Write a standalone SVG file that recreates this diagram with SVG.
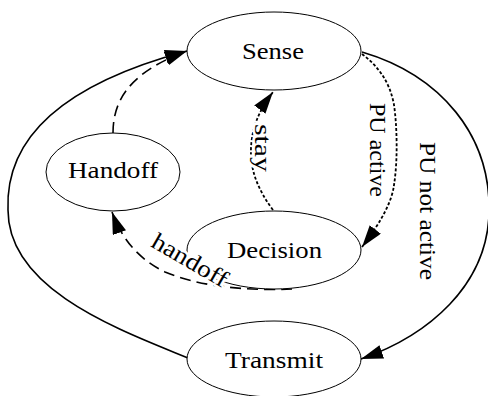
<svg xmlns="http://www.w3.org/2000/svg" width="488" height="396" viewBox="0 0 488 396">
  <style>
    .node ellipse { fill: #fff; stroke: #000; stroke-width: 1; }
    .node text { font-family: "Liberation Serif", "Times New Roman", serif; font-size: 24px; text-anchor: middle; fill: #000; }
    .edge { fill: none; stroke: #000; stroke-width: 1.6; }
    .dashed { stroke-dasharray: 11 6; }
    .dotted { stroke-dasharray: 3 2; stroke-width: 1.8; }
    .label { font-family: "Liberation Serif", "Times New Roman", serif; font-size: 24px; text-anchor: middle; fill: #000;
             stroke: #fff; stroke-width: 5; paint-order: stroke; stroke-linejoin: round; }
  </style>
  <defs>
    <marker id="arrow" markerUnits="userSpaceOnUse" markerWidth="24" markerHeight="16" refX="22" refY="7" orient="auto">
      <path d="M0,0 L22,7 L0,14 z" fill="#000"/>
    </marker>
  </defs>
  <rect width="488" height="396" fill="#fff"/>

  <g id="connectors">
    <!-- Transmit -> Sense -->
    <path class="edge" d="M188,358 C120,330 8,290 8,210 C5,140 60,85 187,51" marker-end="url(#arrow)"/>
    <!-- Handoff -> Sense -->
    <path class="edge dashed" d="M113,133 C113,100 130,72 187,51" marker-end="url(#arrow)"/>
    <!-- Sense -> Transmit : PU not active -->
    <path class="edge" d="M362,52 C440,75 492,135 489,215 C486,285 430,335 361,359" marker-end="url(#arrow)"/>
    <!-- Sense -> Decision : PU active -->
    <path class="edge dotted" d="M362,54 C378,66 390,82 394,105 C397,125 398,160 394,185 C392,200 384,218 362,247" marker-end="url(#arrow)"/>
    <!-- Decision -> Sense : stay -->
    <path class="edge dotted" d="M273,210 C258,190 250,170 251,148 C252,128 258,112 273,92" marker-end="url(#arrow)"/>
    <!-- Decision -> Handoff : handoff -->
    <path class="edge dashed" d="M292,289 C250,291 200,287 165,272 C140,260 122,240 112,212" marker-end="url(#arrow)"/>
  </g>

  <g id="sense" class="node">
    <ellipse cx="274" cy="51" rx="87" ry="39"/>
    <text x="273" y="59" textLength="62" lengthAdjust="spacingAndGlyphs">Sense</text>
  </g>
  <g id="handoff" class="node">
    <ellipse cx="113" cy="172" rx="67" ry="39"/>
    <text x="113" y="178" textLength="90" lengthAdjust="spacingAndGlyphs">Handoff</text>
  </g>
  <g id="decision" class="node">
    <ellipse cx="274" cy="250" rx="87" ry="39"/>
    <text x="274.5" y="258" textLength="95" lengthAdjust="spacingAndGlyphs">Decision</text>
  </g>
  <g id="transmit" class="node">
    <ellipse cx="274" cy="359" rx="87" ry="38"/>
    <text x="274" y="368" textLength="98" lengthAdjust="spacingAndGlyphs">Transmit</text>
  </g>

  <!-- edge labels sit above the nodes, with a white halo -->
  <g id="edge-labels">
    <text class="label" transform="translate(420,211) rotate(90)" textLength="138" lengthAdjust="spacingAndGlyphs">PU not active</text>
    <text class="label" transform="translate(370,150) rotate(90)" textLength="94" lengthAdjust="spacingAndGlyphs">PU active</text>
    <text class="label" transform="translate(255,148) rotate(90)" textLength="48" lengthAdjust="spacingAndGlyphs">stay</text>
    <text class="label" transform="translate(186,267) rotate(30)" textLength="84" lengthAdjust="spacingAndGlyphs">handoff</text>
  </g>
</svg>
